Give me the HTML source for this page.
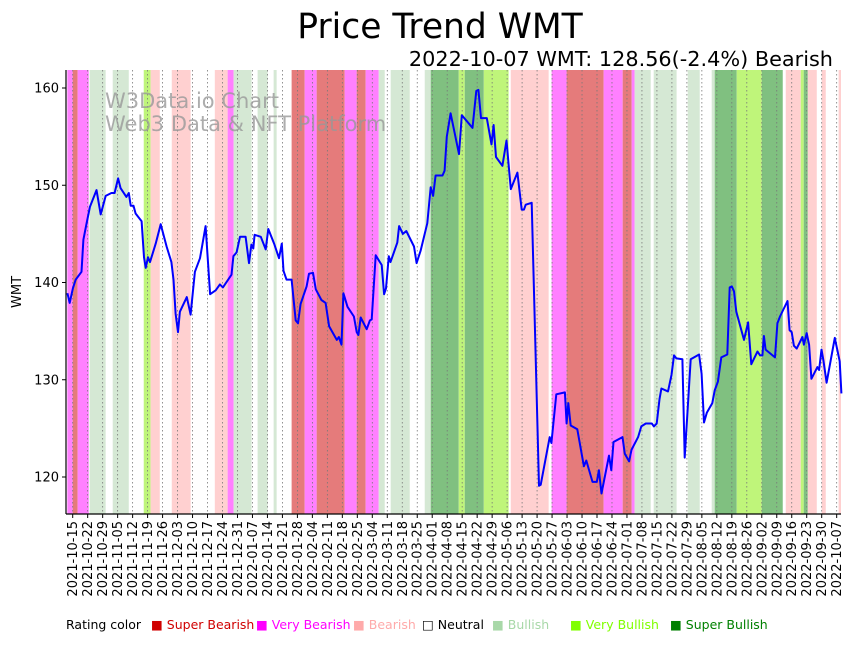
<!DOCTYPE html>
<html><head><meta charset="utf-8"><style>
body{margin:0;background:#fff;font-family:"Liberation Sans","DejaVu Sans",sans-serif;}
svg text{font-family:"DejaVu Sans","Liberation Sans",sans-serif;}
</style></head><body>
<svg id="chart" width="857" height="641" viewBox="0 0 857 641" xmlns="http://www.w3.org/2000/svg">
<text x="440" y="38" font-size="34.5" text-anchor="middle">Price Trend WMT</text>
<text x="833" y="66" font-size="20.8" text-anchor="end">2022-10-07 WMT: 128.56(-2.4%) Bearish</text>
<g id="bands"></g><g id="grid"></g>
<text x="105" y="108" font-size="21" fill="#999" fill-opacity="0.8">W3Data.io Chart</text>
<text x="105" y="131" font-size="21" fill="#999" fill-opacity="0.8">Web3 Data &amp; NFT Platform</text>
<g id="line"></g><g id="axes"></g>
<text transform="translate(21,292) rotate(-90)" font-size="13" text-anchor="middle">WMT</text>
<g font-size="12.5">
<text x="66" y="629">Rating color</text>
<text x="151" y="629" fill="#d00000">■ Super Bearish</text>
<text x="256" y="629" fill="#ff00ff">■ Very Bearish</text>
<text x="353" y="629" fill="#ffaaaa">■ Bearish</text>
<text x="422" y="629" fill="#000">□ Neutral</text>
<text x="492" y="629" fill="#a8d8a8">■ Bullish</text>
<text x="570" y="629" fill="#80ff00">■ Very Bullish</text>
<text x="670" y="629" fill="#008000">■ Super Bullish</text>
</g>
</svg>
<script>
const days=[-2.5,-1.4,0.1,1.4,4.1,5.0,6.5,8.1,11.1,13.1,15.4,18.1,19.6,21.2,22.4,25.1,26.2,27.1,28.4,29.4,32.2,33.3,34.1,35.2,36.1,38.8,41.1,43.9,46.1,47.1,48.1,49.2,50.1,53.3,55.1,57.1,59.5,62.1,64.2,66.8,68.8,70.2,74.2,75.1,76.6,78.2,80.8,82.4,83.5,84.4,85.0,87.9,90.2,91.4,94.1,96.4,97.7,98.5,99.9,102.3,104.2,105.3,106.5,109.3,110.4,112.3,113.6,116.2,118.2,119.8,123.4,124.4,125.6,126.5,128.4,131.4,132.7,133.5,134.6,137.4,138.9,139.7,141.6,144.4,145.5,146.4,147.7,148.5,151.7,152.5,154.3,155.9,159.5,160.7,162.6,165.7,167.3,168.4,169.6,172.8,173.8,174.8,176.6,180.5,181.8,186.8,188.6,189.6,190.8,193.5,195.7,196.7,197.8,200.8,202.7,204.7,207.8,209.8,210.9,211.7,214.5,217.9,218.7,222.9,223.7,226.0,230.0,230.8,231.6,232.7,235.8,238.9,240.0,242.9,244.9,245.9,247.1,250.6,251.7,252.7,256.9,258.0,260.0,261.1,264.2,265.7,267.8,270.6,271.6,272.9,274.2,275.1,278.2,279.8,281.0,282.1,284.9,286.0,288.8,292.7,293.9,295.0,296.3,298.9,300.0,301.5,303.1,305.9,307.0,308.0,309.0,310.1,313.7,315.6,317.1,320.0,321.2,322.3,323.0,323.8,328.2,329.3,330.5,334.0,335.0,336.0,337.0,338.3,341.0,341.7,343.0,344.1,345.2,348.0,348.8,349.9,350.8,352.3,356.1,358.4,359.2];
const prices=[138.9,137.9,139.4,140.3,141.1,144.4,146.1,147.8,149.5,147.0,148.9,149.2,149.2,150.7,149.7,148.8,149.2,147.9,147.9,147.1,146.3,142.6,141.5,142.6,142.1,144.0,146.0,143.7,142.1,140.3,136.8,134.9,137.0,138.5,136.7,141.1,142.5,145.8,138.8,139.2,139.8,139.5,140.8,142.7,143.1,144.7,144.7,142.0,143.9,143.5,144.9,144.7,143.4,145.5,144.0,142.5,144.0,141.2,140.3,140.3,136.1,135.8,137.8,139.6,140.9,141.0,139.3,138.2,137.9,135.5,134.1,134.4,133.6,138.9,137.5,136.5,134.9,134.6,136.4,135.2,136.1,136.2,142.8,141.8,138.8,139.4,142.7,142.1,144.1,145.8,145.0,145.3,143.7,142.0,143.3,146.1,149.8,148.9,151.0,151.0,151.5,155.0,157.4,153.2,157.2,155.9,159.7,159.8,156.9,156.9,154.2,156.2,152.9,152.0,154.6,149.6,151.3,147.5,147.5,148.0,148.2,119.1,119.2,124.1,123.5,128.5,128.7,125.5,127.6,125.3,124.9,121.1,121.7,119.5,119.5,120.7,118.3,122.2,120.7,123.6,124.1,122.4,121.6,122.8,124.1,125.2,125.5,125.5,125.2,125.5,128.0,129.1,128.8,130.5,132.5,132.2,132.1,122.0,132.1,132.6,130.6,125.6,126.6,127.6,128.9,129.8,132.3,132.6,139.5,139.6,139.1,137.0,134.1,135.9,131.6,132.9,132.5,132.5,134.5,133.1,132.3,135.8,136.5,138.1,135.1,134.9,133.5,133.2,134.4,133.6,134.8,133.6,130.1,131.3,131.0,133.1,132.0,129.7,134.3,131.9,128.6];
const bandStart=[-2.5,0,2.3,7.9,18.7,33.2,36.4,46.3,66.4,72.4,75.2,86.4,93.9,102.3,108.4,114,127.1,132.7,136.9,143,148.6,164.5,167.3,180.4,183.2,192.1,204.7,223.8,230.8,248.1,257,261.2,262.6,271.5,287.4,298.6,300,310.3,322,333.2,340.2,341.6,343.5,350,357.9];
const bandEnd=[0,2.3,7.5,15.4,26.2,36.4,40.7,55.1,72.4,75.2,83.6,91.1,95.3,108.4,114,127.1,132.7,136.9,143,145.8,157.5,167.3,180.4,183.2,192.1,203.7,222.4,230.8,248.1,257,261.2,262.6,270.1,282.2,293,300,310.3,322,331.8,340.2,341.6,343.5,347.7,351.9,359.8];
const bandRating=["vbear","sbear","vbear","bull","bull","vbull","bear","bear","bear","vbear","bull","bull","bull","sbear","vbear","sbear","vbear","sbear","vbear","bull","bull","bull","sbull","vbull","sbull","vbull","bear","vbear","sbear","vbear","sbear","vbear","bull","bull","bull","bull","sbull","vbull","sbull","bear","vbull","sbull","bear","bear","bear"];
const yTicks=[120,130,140,150,160];
const startDate=new Date(Date.UTC(2021,9,15));
const weekCount=52;
const colors={sbear:"#e57b7b",vbear:"#ff80ff",bear:"#ffd0d0",bull:"#d5e8d4",vbull:"#bff57a",sbull:"#80c080"};
const L=66,R=841,T=70,B=514;
function xs(d){return 72.7+d*2.14;}
function ys(v){return 477-(v-120)*9.725;}
const NS="http://www.w3.org/2000/svg";
function mk(tag,parent,attrs){const e=document.createElementNS(NS,tag);for(const k in attrs)e.setAttribute(k,attrs[k]);parent.appendChild(e);return e;}
const gB=document.getElementById('bands');
for(let i=0;i<bandStart.length;i++){
  const x0=Math.max(L,xs(bandStart[i])),x1=Math.min(R,xs(bandEnd[i]));
  const r=mk('rect',gB,{x:x0,y:T,width:Math.max(0,x1-x0),height:B-T,fill:colors[bandRating[i]]});
  
  
}
const gG=document.getElementById('grid'),gA=document.getElementById('axes');
for(let w=0;w<weekCount;w++){
  const x=xs(w*7);
  const gl=mk('line',gG,{x1:x,x2:x,y1:T,y2:B,stroke:"#777","stroke-width":0.8,"stroke-dasharray":"1.5,2.5"});
  
  
  mk('line',gA,{x1:x,x2:x,y1:B,y2:B+4,stroke:"#000","stroke-width":1});
  const dt=new Date(startDate.getTime()+w*7*86400000);
  const lbl=dt.toISOString().slice(0,10);
  const t=mk('text',gA,{transform:`translate(${x+4.5},${B+7}) rotate(-90)`,"font-size":13,"text-anchor":"end"});
  t.textContent=lbl;
  
  
}
yTicks.forEach(v=>{
  const y=ys(v);
  mk('line',gA,{x1:L-4,x2:L,y1:y,y2:y,stroke:"#000","stroke-width":1});
  const t=mk('text',gA,{x:L-7,y:y+4.5,"font-size":13,"text-anchor":"end"});
  t.textContent=v;
  
  
});
const ax=mk('line',gA,{x1:L,x2:L,y1:T,y2:B,stroke:"#000","stroke-width":1.2});


const bx=mk('line',gA,{x1:L,x2:R,y1:B,y2:B,stroke:"#000","stroke-width":1.2});


const pts=days.map((d,i)=>xs(d).toFixed(1)+","+ys(prices[i]).toFixed(1)).join(" ");
const pl=mk('polyline',document.getElementById('line'),{points:pts,fill:"none",stroke:"#0000ff","stroke-width":2,"stroke-linejoin":"round"});


</script>
</body></html>
